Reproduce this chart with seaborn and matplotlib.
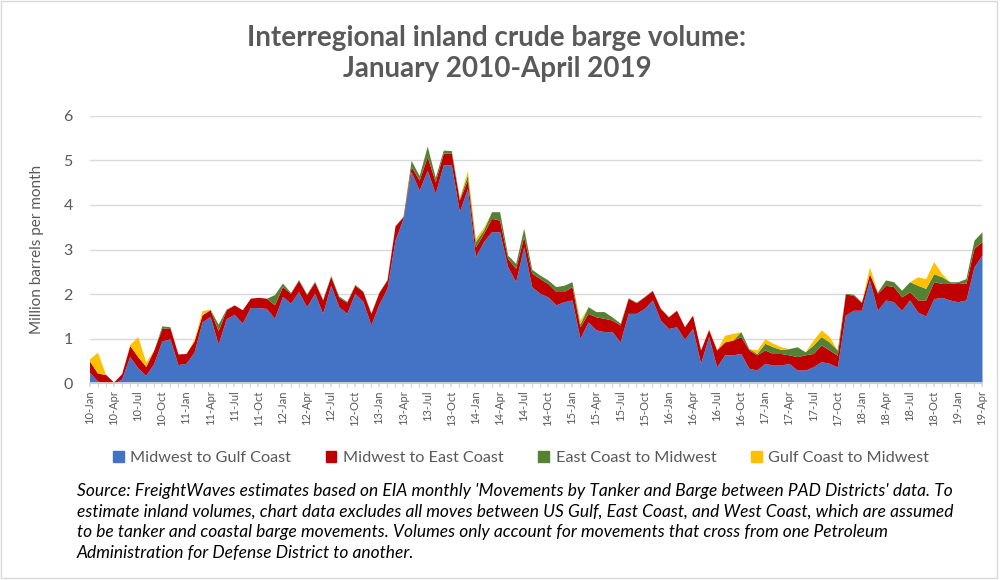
import matplotlib

matplotlib.use("Agg")

import matplotlib.pyplot as plt  # noqa: E402
import numpy as np  # noqa: E402
import seaborn as sns  # noqa: E402
from matplotlib.patches import Patch, Rectangle  # noqa: E402

# Monthly volumes, Jan 2010 .. Apr 2019 (112 months), million barrels.
midwest_to_gulf = [
    0.25, 0.05, 0.0, 0.0, 0.1, 0.6, 0.35, 0.18, 0.45, 0.95, 1.0, 0.42,
    0.45, 0.7, 1.38, 1.5, 0.88, 1.45, 1.55, 1.35, 1.7, 1.7, 1.68, 1.46,
    1.95, 1.8, 2.06, 1.72, 2.02, 1.57, 2.2, 1.72, 1.57, 2.02, 1.84, 1.31,
    1.78, 2.13, 3.21, 3.7, 4.75, 4.33, 4.78, 4.26, 4.9, 4.9, 3.85, 4.37,
    2.84, 3.18, 3.4, 3.4, 2.62, 2.28, 3.06, 2.17, 2.02, 1.94, 1.76, 1.83,
    1.87, 1.01, 1.38, 1.2, 1.16, 1.16, 0.93, 1.57, 1.57, 1.68, 1.87, 1.42,
    1.23, 1.27, 0.99, 1.23, 0.45, 1.05, 0.37, 0.64, 0.64, 0.67, 0.34, 0.3,
    0.45, 0.41, 0.41, 0.45, 0.3, 0.3, 0.37, 0.49, 0.45, 0.37, 1.53, 1.64,
    1.64, 2.32, 1.64, 1.87, 1.83, 1.64, 1.87, 1.6, 1.51, 1.9, 1.93, 1.87,
    1.83, 1.87, 2.61, 2.88,
]
midwest_to_east = [
    0.25, 0.18, 0.2, 0.03, 0.12, 0.25, 0.25, 0.2, 0.3, 0.28, 0.25, 0.24,
    0.22, 0.25, 0.16, 0.15, 0.3, 0.2, 0.21, 0.3, 0.21, 0.23, 0.23, 0.3,
    0.22, 0.22, 0.25, 0.27, 0.25, 0.3, 0.2, 0.21, 0.25, 0.18, 0.22, 0.26,
    0.26, 0.19, 0.32, 0.04, 0.11, 0.23, 0.3, 0.26, 0.26, 0.27, 0.26, 0.19,
    0.22, 0.18, 0.3, 0.26, 0.18, 0.3, 0.23, 0.3, 0.33, 0.3, 0.3, 0.23,
    0.3, 0.26, 0.19, 0.29, 0.3, 0.26, 0.38, 0.34, 0.24, 0.26, 0.21, 0.26,
    0.26, 0.37, 0.28, 0.3, 0.3, 0.16, 0.38, 0.29, 0.33, 0.38, 0.41, 0.34,
    0.3, 0.26, 0.26, 0.19, 0.3, 0.34, 0.3, 0.37, 0.3, 0.26, 0.47, 0.34,
    0.17, 0.14, 0.38, 0.33, 0.34, 0.3, 0.18, 0.27, 0.36, 0.38, 0.31, 0.37,
    0.43, 0.37, 0.42, 0.3,
]
east_to_midwest = [
    0.0, 0.0, 0.0, 0.0, 0.0, 0.0, 0.0, 0.0, 0.0, 0.06, 0.02, 0.0,
    0.0, 0.0, 0.0, 0.01, 0.15, 0.02, 0.0, 0.0, 0.0, 0.0, 0.0, 0.23,
    0.08, 0.02, 0.02, 0.02, 0.02, 0.02, 0.02, 0.03, 0.02, 0.02, 0.01, 0.01,
    0.01, 0.01, 0.01, 0.01, 0.14, 0.1, 0.24, 0.1, 0.07, 0.05, 0.04, 0.11,
    0.12, 0.08, 0.15, 0.19, 0.08, 0.11, 0.19, 0.09, 0.08, 0.08, 0.11, 0.14,
    0.11, 0.06, 0.15, 0.12, 0.15, 0.07, 0.04, 0.01, 0.01, 0.01, 0.01, 0.01,
    0.01, 0.0, 0.0, 0.0, 0.0, 0.0, 0.0, 0.0, 0.0, 0.11, 0.03, 0.03,
    0.15, 0.15, 0.09, 0.14, 0.22, 0.07, 0.19, 0.19, 0.18, 0.12, 0.02, 0.02,
    0.02, 0.0, 0.03, 0.12, 0.11, 0.15, 0.23, 0.33, 0.26, 0.18, 0.15, 0.04,
    0.02, 0.11, 0.18, 0.22,
]
gulf_to_midwest = [
    0.05, 0.47, 0.0, 0.0, 0.0, 0.02, 0.45, 0.1, 0.0, 0.0, 0.0, 0.0,
    0.0, 0.04, 0.09, 0.01, 0.0, 0.0, 0.0, 0.0, 0.0, 0.0, 0.0, 0.0,
    0.0, 0.0, 0.0, 0.0, 0.0, 0.0, 0.0, 0.0, 0.0, 0.0, 0.0, 0.0,
    0.0, 0.0, 0.0, 0.0, 0.0, 0.0, 0.0, 0.0, 0.0, 0.0, 0.02, 0.1,
    0.07, 0.06, 0.0, 0.0, 0.0, 0.0, 0.0, 0.0, 0.0, 0.0, 0.0, 0.0,
    0.0, 0.08, 0.0, 0.0, 0.0, 0.0, 0.0, 0.0, 0.0, 0.0, 0.0, 0.0,
    0.0, 0.0, 0.0, 0.0, 0.0, 0.02, 0.0, 0.15, 0.15, 0.0, 0.0, 0.08,
    0.1, 0.08, 0.06, 0.0, 0.0, 0.0, 0.11, 0.15, 0.12, 0.0, 0.0, 0.0,
    0.0, 0.15, 0.0, 0.0, 0.0, 0.0, 0.0, 0.19, 0.22, 0.27, 0.07, 0.0,
    0.0, 0.0, 0.0, 0.0,
]

series_names = [
    "Midwest to Gulf Coast",
    "Midwest to East Coast",
    "East Coast to Midwest",
    "Gulf Coast to Midwest",
]
series_colors = ["#4472C4", "#C00000", "#548235", "#FFC000"]

years = list(range(10, 20))
quarter_months = ["Jan", "Apr", "Jul", "Oct"]
tick_labels = [f"{y}-{m}" for y in years for m in quarter_months][:38]

TITLE = "Interregional inland crude barge volume:\nJanuary 2010-April 2019"
SOURCE = (
    "Source: FreightWaves estimates based on EIA monthly 'Movements by Tanker and Barge between PAD Districts' data. To\n"
    "estimate inland volumes, chart data excludes all moves between US Gulf, East Coast, and West Coast, which are assumed\n"
    "to be tanker and coastal barge movements. Volumes only account for movements that cross from one Petroleum\n"
    "Administration for Defense District to another."
)

sns.set_theme(style="whitegrid")
plt.rcParams["font.family"] = ["Lato", "DejaVu Sans"]

GREY = "#595959"

fig = plt.figure(figsize=(10, 5.8), dpi=100)
ax = fig.add_axes([0.0895, 0.339, 0.8925, 0.4614])

months = np.arange(len(midwest_to_gulf))
ax.stackplot(
    months,
    midwest_to_gulf,
    midwest_to_east,
    east_to_midwest,
    gulf_to_midwest,
    colors=series_colors,
    linewidth=0,
)

ax.set_xlim(0, len(months) - 1)
ax.set_ylim(0, 6)
ax.set_yticks(range(0, 7))
ax.tick_params(axis="y", labelsize=11.5, labelcolor=GREY, length=0, pad=12)
ax.set_ylabel("Million barrels per month", fontsize=11, color=GREY, labelpad=14)

ax.set_xticks(months[::3])
ax.set_xticklabels(tick_labels, rotation=90, fontsize=8, color=GREY)
ax.set_xticks(months, minor=True)
ax.tick_params(axis="x", which="both", direction="out", length=3, color="#D9D9D9",
               bottom=True, pad=2)
ax.grid(axis="y", color="#D9D9D9", linewidth=1)
ax.grid(axis="x", visible=False)
ax.set_axisbelow(True)
sns.despine(ax=ax, left=True, top=True, right=True)
ax.spines["bottom"].set_color("#D9D9D9")

fig.text(0.497, 0.908, TITLE, ha="center", va="center", fontsize=20,
         fontweight="bold", color=GREY, linespacing=1.25)

handles = [Patch(facecolor=c, edgecolor=c) for c in series_colors]
fig.legend(handles, series_names, loc="center", bbox_to_anchor=(0.521, 0.21), ncol=4,
           frameon=False, fontsize=11.7, labelcolor=GREY, handlelength=0.65,
           handleheight=0.65, handletextpad=0.4, columnspacing=2.15)

fig.text(0.077, 0.168, SOURCE, ha="left", va="top", fontsize=12.5, style="italic",
         color="black", linespacing=1.37)

fig.patches.append(Rectangle((0.001, 0.003), 0.996, 0.996, transform=fig.transFigure,
                             fill=False, edgecolor="#D9D9D9", linewidth=1))

fig.savefig("out.png", dpi=100)
